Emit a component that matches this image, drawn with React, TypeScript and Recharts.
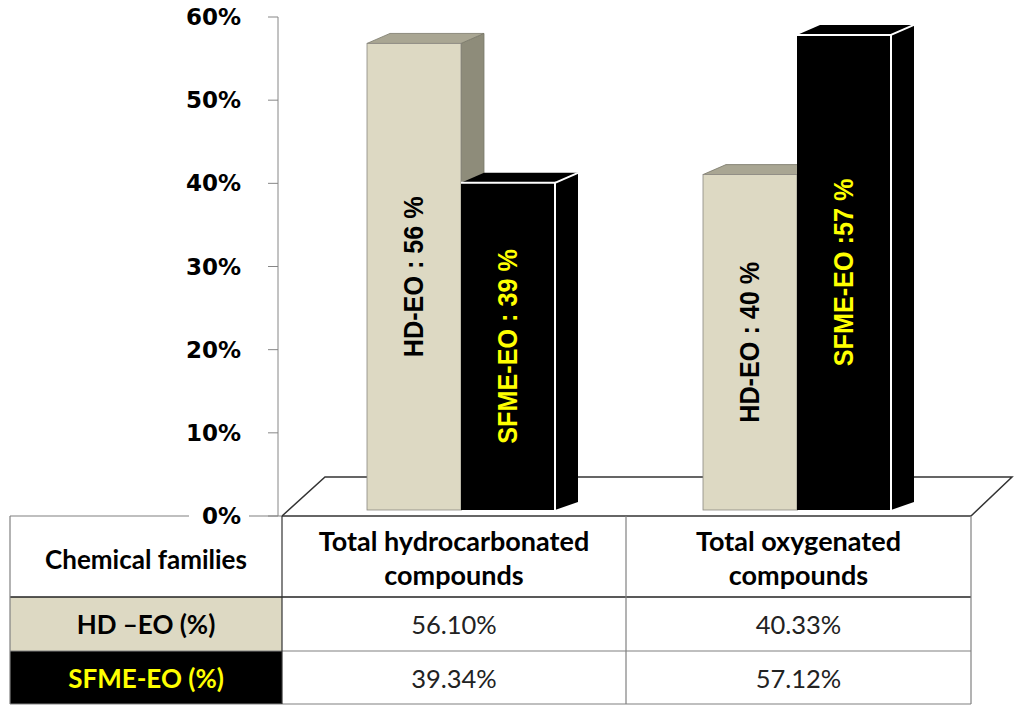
import React from 'react'
import { BarChart, Bar, XAxis, YAxis, LabelList } from 'recharts'

// data
const categories = ['Total hydrocarbonated compounds', 'Total oxygenated compounds']
const categoryLines = [
  ['Total hydrocarbonated', 'compounds'],
  ['Total oxygenated', 'compounds'],
]
const hdValues = [56.1, 40.33]
const sfmeValues = [39.34, 57.12]
const hdBarLabels = ['HD-EO : 56 %', 'HD-EO : 40 %']
const sfmeBarLabels = ['SFME-EO : 39 %', 'SFME-EO :57 %']
const seriesNames = ['HD –EO (%)', 'SFME-EO (%)']
const rowHeader = 'Chemical families'
const yTicks = [0, 10, 20, 30, 40, 50, 60]

const chartData = categories.map((name, i) => ({
  name,
  hd: hdValues[i],
  sfme: sfmeValues[i],
}))

// layout
const W = 1024
const H = 717
const AXIS_X = 278
const PLOT_TOP = 17
const PLOT_BOTTOM = 516
const PLOT_RIGHT = 965
const PAD_LEFT = 15
const DX = 23
const DY = -10
const LIFT = 6

const TABLE_LEFT = 10
const COL1 = 282
const COL2 = 626
const TABLE_RIGHT = 971
const ROWS = [516, 597, 651, 704]
const FLOOR_BACK_Y = 477
const FLOOR_BACK_LEFT = 325
const FLOOR_BACK_RIGHT = 1012

const BEIGE = '#DDD9C3'
const BEIGE_TOP = '#A9A693'
const BEIGE_SIDE = '#8E8C7A'
const YELLOW = '#FFFF00'
const tableFont = 'Lato, "Open Sans", sans-serif'

const Bar3D = (props: any) => {
  const { x, y, width, height, dark } = props
  const top = y - LIFT
  const bottom = y + height - LIFT
  const r = x + width
  const side = `${r},${top} ${r + DX},${top + DY} ${r + DX},${bottom + DY * 0.8} ${r},${bottom}`
  const cap = `${x},${top} ${x + DX},${top + DY} ${r + DX},${top + DY} ${r},${top}`
  if (dark) {
    return (
      <g>
        <polygon points={side} fill="#000" />
        <polygon points={cap} fill="#000" />
        <rect x={x} y={top} width={width} height={bottom - top} fill="#000" />
        <polyline points={`${x},${top} ${r},${top} ${r},${bottom}`} fill="none" stroke="#fff" strokeWidth={2} />
        <line x1={r} y1={top} x2={r + DX} y2={top + DY} stroke="#fff" strokeWidth={2} />
      </g>
    )
  }
  return (
    <g>
      <polygon points={side} fill={BEIGE_SIDE} stroke="#7a786a" strokeWidth={0.8} />
      <polygon points={cap} fill={BEIGE_TOP} stroke="#7a786a" strokeWidth={0.8} />
      <rect x={x} y={top} width={width} height={bottom - top} fill={BEIGE} stroke="#8a8880" strokeWidth={0.8} />
    </g>
  )
}

// condensed bold label, rotated to read upwards
const barLabel = (labels: string[], color: string) => (props: any) => {
  const { x, y, width, height, index } = props
  const cx = x + width / 2
  const cy = y + height / 2 - LIFT
  return (
    <text
      x={0}
      y={0}
      transform={`translate(${cx} ${cy}) rotate(-90) scale(0.9 1)`}
      textAnchor="middle"
      dominantBaseline="central"
      fill={color}
      fontFamily='"Liberation Sans Narrow", "Liberation Sans", Arial, sans-serif'
      fontWeight="bold"
      fontSize={28}
    >
      {labels[index]}
    </text>
  )
}

const YTick = (props: any) => {
  const { x, y, payload } = props
  const label = `${payload.value}%`
  return (
    <g>
      <rect x={x - 52} y={y - 12} width={60} height={24} fill="#fff" />
      <text
        x={x}
        y={y}
        textAnchor="end"
        dominantBaseline="central"
        fontFamily='"DejaVu Sans", Verdana, sans-serif'
        fontWeight="bold"
        fontSize={23}
        fill="#000"
      >
        {label}
      </text>
    </g>
  )
}

function TableAndFloor() {
  const colCenters = [(COL1 + COL2) / 2, (COL2 + TABLE_RIGHT) / 2]
  const rowMid = (i: number) => (ROWS[i] + ROWS[i + 1]) / 2
  const grey = '#808080'
  return (
    <svg width={W} height={H} style={{ position: 'absolute', left: 0, top: 0 }}>
      {/* floor */}
      <polyline
        points={`${COL1},${ROWS[0]} ${FLOOR_BACK_LEFT},${FLOOR_BACK_Y} ${FLOOR_BACK_RIGHT},${FLOOR_BACK_Y} ${TABLE_RIGHT},${ROWS[0]}`}
        fill="none"
        stroke="#333"
        strokeWidth={1.5}
      />
      {/* row header cells */}
      <rect x={TABLE_LEFT} y={ROWS[1]} width={COL1 - TABLE_LEFT} height={ROWS[2] - ROWS[1]} fill={BEIGE} />
      <rect x={TABLE_LEFT} y={ROWS[2]} width={COL1 - TABLE_LEFT} height={ROWS[3] - ROWS[2]} fill="#000" />
      {/* grid */}
      <line x1={TABLE_LEFT} y1={ROWS[0]} x2={COL1} y2={ROWS[0]} stroke={grey} strokeWidth={1.2} />
      <line x1={COL1} y1={ROWS[0]} x2={TABLE_RIGHT} y2={ROWS[0]} stroke="#333" strokeWidth={1.5} />
      <line x1={TABLE_LEFT} y1={ROWS[1]} x2={TABLE_RIGHT} y2={ROWS[1]} stroke="#222" strokeWidth={1.5} />
      <line x1={TABLE_LEFT} y1={ROWS[2]} x2={TABLE_RIGHT} y2={ROWS[2]} stroke={grey} strokeWidth={1.2} />
      <line x1={TABLE_LEFT} y1={ROWS[3]} x2={TABLE_RIGHT} y2={ROWS[3]} stroke={grey} strokeWidth={1.2} />
      <line x1={TABLE_LEFT} y1={ROWS[0]} x2={TABLE_LEFT} y2={ROWS[3]} stroke={grey} strokeWidth={1.2} />
      <line x1={COL1} y1={ROWS[0]} x2={COL1} y2={ROWS[3]} stroke="#333" strokeWidth={1.2} />
      <line x1={COL2} y1={ROWS[0]} x2={COL2} y2={ROWS[3]} stroke={grey} strokeWidth={1.2} />
      <line x1={TABLE_RIGHT} y1={ROWS[0]} x2={TABLE_RIGHT} y2={ROWS[3]} stroke={grey} strokeWidth={1.2} />
      {/* texts */}
      <g fontFamily={tableFont} fontSize={26} textAnchor="middle" dominantBaseline="central">
        <text x={(TABLE_LEFT + COL1) / 2} y={rowMid(0) + 2} fontWeight="bold" fill="#000">
          {rowHeader}
        </text>
        {categoryLines.map((lines, i) =>
          lines.map((line, j) => (
            <text
              key={`${i}-${j}`}
              x={colCenters[i]}
              y={rowMid(0) - 16 + j * 34}
              fontWeight="bold"
              fontSize={27}
              fill="#000"
            >
              {line}
            </text>
          ))
        )}
        <text x={(TABLE_LEFT + COL1) / 2} y={rowMid(1)} fontWeight="bold" fill="#000">
          {seriesNames[0]}
        </text>
        <text x={(TABLE_LEFT + COL1) / 2} y={rowMid(2)} fontWeight="bold" fill={YELLOW}>
          {seriesNames[1]}
        </text>
        {hdValues.map((v, i) => (
          <text key={`hd${i}`} x={colCenters[i]} y={rowMid(1)} fontSize={25.5} fill="#222">
            {v.toFixed(2)}%
          </text>
        ))}
        {sfmeValues.map((v, i) => (
          <text key={`sf${i}`} x={colCenters[i]} y={rowMid(2)} fontSize={25.5} fill="#222">
            {v.toFixed(2)}%
          </text>
        ))}
      </g>
    </svg>
  )
}

export default function App() {
  return (
    <div style={{ position: 'absolute', left: 0, top: 0, width: W, height: H, background: '#fff' }}>
      <TableAndFloor />
      <div style={{ position: 'absolute', left: 0, top: 0 }}>
        <BarChart
          width={W}
          height={H}
          data={chartData}
          margin={{ top: PLOT_TOP, right: W - PLOT_RIGHT, bottom: H - PLOT_BOTTOM, left: 0 }}
          barGap={0}
          barSize={94}
        >
          <XAxis dataKey="name" hide padding={{ left: PAD_LEFT, right: 0 }} />
          <YAxis
            width={AXIS_X}
            domain={[0, 60]}
            ticks={yTicks}
            interval={0}
            tickSize={10}
            tickMargin={27}
            tick={<YTick />}
            axisLine={{ stroke: '#868686' }}
            tickLine={{ stroke: '#868686' }}
          />
          <Bar dataKey="hd" isAnimationActive={false} shape={<Bar3D />}>
            <LabelList content={barLabel(hdBarLabels, '#000')} />
          </Bar>
          <Bar dataKey="sfme" isAnimationActive={false} shape={<Bar3D dark />}>
            <LabelList content={barLabel(sfmeBarLabels, YELLOW)} />
          </Bar>
        </BarChart>
      </div>
    </div>
  )
}
